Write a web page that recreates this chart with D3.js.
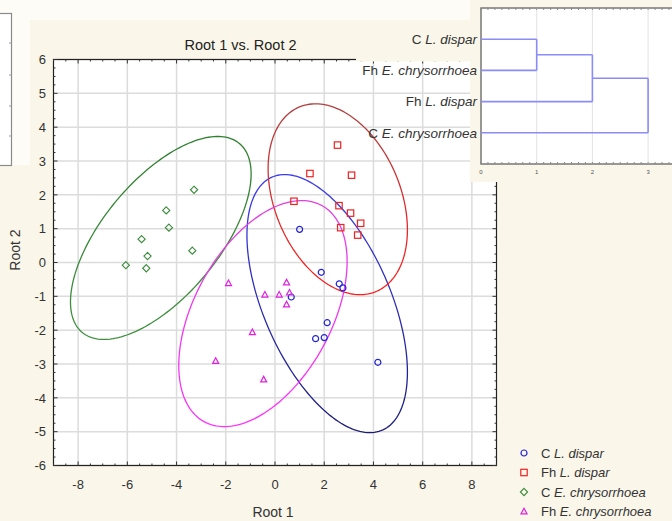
<!DOCTYPE html>
<html><head><meta charset="utf-8">
<script src="https://cdn.jsdelivr.net/npm/d3@7"></script>
<style>
body{margin:0;background:#fdfcf6;}
svg{display:block;font-family:"Liberation Sans",Arial,sans-serif;}
</style>
</head><body><svg id="c" width="672" height="521"></svg>
<script>
// ---------- data ----------
const groupPrefix  = ["C", "Fh", "C", "Fh"];
const groupSpecies = ["L. dispar", "L. dispar", "E. chrysorrhoea", "E. chrysorrhoea"];
const groupColors  = ["#2424d0", "#ee2222", "#3b8b3b", "#e020e0"];
const groupShapes  = ["circle", "square", "diamond", "triangle"];

const cLdisparRoot1 = [1.00, 1.88, 2.61, 2.76, 0.66, 2.12, 1.65, 2.00, 4.18];
const cLdisparRoot2 = [0.98, -0.29, -0.63, -0.75, -1.02, -1.78, -2.25, -2.22, -2.95];
const fhLdisparRoot1 = [2.54, 1.42, 3.11, 0.77, 2.60, 3.07, 3.48, 2.67, 3.36];
const fhLdisparRoot2 = [3.47, 2.63, 2.58, 1.81, 1.68, 1.46, 1.16, 1.03, 0.81];
const cEchrysRoot1 = [-3.29, -4.42, -4.31, -5.42, -3.36, -5.18, -6.06, -5.23];
const cEchrysRoot2 = [2.15, 1.54, 1.03, 0.69, 0.35, 0.19, -0.08, -0.17];
const fhEchrysRoot1 = [-1.89, 0.47, -0.41, 0.17, 0.59, 0.47, -0.92, -2.41, -0.46];
const fhEchrysRoot2 = [-0.61, -0.59, -0.95, -0.95, -0.89, -1.24, -2.06, -2.91, -3.46];

// ellipses (data units): centre, half extent in x and y, correlation
const ellipseCenterX = [2.12, 2.55, -4.64, -0.49];
const ellipseCenterY = [-1.215, 1.87, 0.725, -1.51];
const ellipseHalfX   = [3.26, 2.83, 3.67, 3.42];
const ellipseHalfY   = [3.815, 2.82, 3.00, 3.34];
const ellipseRho     = [-0.53, -0.32, 0.63, 0.46];

const xTicks = [-8, -6, -4, -2, 0, 2, 4, 6, 8];
const yTicks = [-6, -5, -4, -3, -2, -1, 0, 1, 2, 3, 4, 5, 6];

// dendrogram
const dendroLeaves = ["C L. dispar", "Fh E. chrysorrhoea", "Fh L. dispar", "C E. chrysorrhoea"];
const dendroLeafPrefix = ["C", "Fh", "Fh", "C"];
const dendroLeafSpecies = ["L. dispar", "E. chrysorrhoea", "L. dispar", "E. chrysorrhoea"];
const dendroMergeA = [0, 4, 5];      // node ids (leaves 0..3, merges 4..)
const dendroMergeB = [1, 2, 3];
const dendroMergeHeight = [1, 2, 3];
const dendroTicks = [0, 1, 2, 3];

// ---------- drawing ----------
const svg = d3.select("#c");
const cream = "#faf7ea";

svg.append("rect").attr("x", 0).attr("y", 0).attr("width", 672).attr("height", 521).attr("fill", "#fdfcf6");
svg.append("rect").attr("x", 30).attr("y", 20).attr("width", 642).attr("height", 501).attr("fill", cream);
svg.append("rect").attr("x", 0).attr("y", 165).attr("width", 30).attr("height", 356).attr("fill", cream);

// left fragment box
svg.append("rect").attr("x", -5).attr("y", 13.5).attr("width", 16.5).attr("height", 152)
  .attr("fill", "#ffffff").attr("stroke", "#8a8a8a").attr("stroke-width", 1.2);
[43, 75, 106, 136].forEach(v => svg.append("line").attr("x1", 9).attr("x2", 11.5).attr("y1", v).attr("y2", v).attr("stroke", "#999"));

const L = 53.5, R = 496.5, T = 59.5, B = 465.5;
const x = d3.scaleLinear().domain([-9, 9]).range([L, R]);
const y = d3.scaleLinear().domain([-6, 6]).range([B, T]);

svg.append("rect").attr("x", L).attr("y", T).attr("width", R - L).attr("height", B - T).attr("fill", "#fff");

// grid
const g = svg.append("g");
g.selectAll(".gx").data(xTicks).join("line")
  .attr("x1", d => x(d)).attr("x2", d => x(d)).attr("y1", T).attr("y2", B)
  .attr("stroke", "#dcdcdc").attr("stroke-width", 1.5);
g.selectAll(".gy").data(yTicks).join("line")
  .attr("y1", d => y(d)).attr("y2", d => y(d)).attr("x1", L).attr("x2", R)
  .attr("stroke", "#dcdcdc").attr("stroke-width", 1.5);

// ellipses
const defs = svg.append("defs");
const grads = [["#3c3cf0", "#1c1c78"], ["#b04040", "#ff1c1c"], ["#2f7f2f", "#3f913f"], ["#e040e0", "#ff30ff"]];
grads.forEach((c, i) => {
  const lg = defs.append("linearGradient").attr("id", "eg" + i).attr("x1", 0).attr("y1", 0).attr("x2", 0).attr("y2", 1);
  lg.append("stop").attr("offset", "0%").attr("stop-color", c[0]);
  lg.append("stop").attr("offset", "100%").attr("stop-color", c[1]);
});
const ts = d3.range(0, 360, 2).map(a => a * Math.PI / 180);
const line = d3.line().curve(d3.curveLinearClosed);
for (let i = 0; i < 4; i++) {
  const r = ellipseRho[i], s = Math.sqrt(1 - r * r);
  const pts = ts.map(t => [
    x(ellipseCenterX[i] + ellipseHalfX[i] * Math.cos(t)),
    y(ellipseCenterY[i] + ellipseHalfY[i] * (r * Math.cos(t) + s * Math.sin(t)))
  ]);
  svg.append("path").attr("d", line(pts)).attr("fill", "none")
    .attr("stroke", `url(#eg${i})`).attr("stroke-width", 1.3);
}

// points
const seriesX = [cLdisparRoot1, fhLdisparRoot1, cEchrysRoot1, fhEchrysRoot1];
const seriesY = [cLdisparRoot2, fhLdisparRoot2, cEchrysRoot2, fhEchrysRoot2];
function marker(sel, shape, color) {
  if (shape === "circle") sel.append("circle").attr("r", 3).attr("fill", "none").attr("stroke", color).attr("stroke-width", 1.2);
  else if (shape === "square") sel.append("rect").attr("x", -3.2).attr("y", -3.2).attr("width", 6.4).attr("height", 6.4).attr("fill", "none").attr("stroke", color).attr("stroke-width", 1.2);
  else if (shape === "diamond") sel.append("path").attr("d", "M0,-3.6L3.6,0L0,3.6L-3.6,0Z").attr("fill", "none").attr("stroke", color).attr("stroke-width", 1.1);
  else sel.append("path").attr("d", "M0,-3.2L3,2.4L-3,2.4Z").attr("fill", "none").attr("stroke", color).attr("stroke-width", 1.2);
}
for (let i = 0; i < 4; i++) {
  seriesX[i].forEach((v, j) => {
    const m = svg.append("g").attr("transform", `translate(${x(v)},${y(seriesY[i][j])})`);
    marker(m, groupShapes[i], groupColors[i]);
  });
}

// frame and ticks
svg.append("rect").attr("x", L).attr("y", T).attr("width", R - L).attr("height", B - T)
  .attr("fill", "none").attr("stroke", "#222").attr("stroke-width", 1.2);
const tk = svg.append("g").attr("stroke", "#333").attr("stroke-width", 1);
d3.range(-6, 6.001, 0.25).forEach(v => {
  const len = Math.abs(v - Math.round(v)) < 1e-6 ? 4 : 2;
  tk.append("line").attr("x1", L).attr("x2", L + len).attr("y1", y(v)).attr("y2", y(v));
  tk.append("line").attr("x1", R).attr("x2", R - len).attr("y1", y(v)).attr("y2", y(v));
});
d3.range(-9, 9.001, 0.5).forEach(v => {
  const len = Math.abs(v / 2 - Math.round(v / 2)) < 1e-6 ? 4 : 2;
  tk.append("line").attr("y1", B).attr("y2", B - len).attr("x1", x(v)).attr("x2", x(v));
  tk.append("line").attr("y1", T).attr("y2", T + len).attr("x1", x(v)).attr("x2", x(v));
});

// tick labels
svg.append("g").selectAll("text").data(yTicks).join("text")
  .attr("x", 46).attr("y", d => y(d)).attr("dy", "0.36em").attr("text-anchor", "end")
  .attr("font-size", 13).attr("fill", "#333").text(d => d);
svg.append("g").selectAll("text").data(xTicks).join("text")
  .attr("x", d => x(d)).attr("y", 484).attr("dy", "0.36em").attr("text-anchor", "middle")
  .attr("font-size", 13).attr("fill", "#333").text(d => d);

svg.append("text").attr("x", 273).attr("y", 517).attr("text-anchor", "middle").attr("font-size", 14).attr("fill", "#333").text("Root 1");
svg.append("text").attr("transform", "translate(20,250) rotate(-90)").attr("text-anchor", "middle").attr("font-size", 14).attr("fill", "#333").text("Root 2");
svg.append("text").attr("x", 240.5).attr("y", 50).attr("text-anchor", "middle").attr("font-size", 14.5).attr("fill", "#222").text("Root 1 vs. Root 2");

// legend
for (let i = 0; i < 4; i++) {
  const ly = 453 + i * 19.5;
  const m = svg.append("g").attr("transform", `translate(524,${ly})`);
  marker(m, groupShapes[i], groupColors[i]);
  const t = svg.append("text").attr("x", 541).attr("y", ly).attr("dy", "0.36em").attr("font-size", 13).attr("fill", "#333");
  t.append("tspan").text(groupPrefix[i] + " ");
  t.append("tspan").attr("font-style", "italic").text(groupSpecies[i]);
}

// ---------- dendrogram inset ----------
svg.append("rect").attr("x", 356).attr("y", 20).attr("width", 316).attr("height", 41.5).attr("fill", cream);
svg.append("rect").attr("x", 470).attr("y", 0).attr("width", 202).attr("height", 182).attr("fill", cream);
const dT = 8, dB = 164, dL = 481;
const dx = d3.scaleLinear().domain([0, 4]).range([dL, dL + 4 * 55.7]);
const dy = d3.scalePoint().domain(dendroLeaves).range([dT, dB]).padding(1);
svg.append("rect").attr("x", dL).attr("y", dT).attr("width", 260).attr("height", dB - dT)
  .attr("fill", "#fff").attr("stroke", "#777").attr("stroke-width", 1.5);
svg.append("g").selectAll("line").data(dendroTicks.slice(1)).join("line")
  .attr("x1", d => dx(d)).attr("x2", d => dx(d)).attr("y1", dT).attr("y2", dB)
  .attr("stroke", "#e2e2e2").attr("stroke-width", 1);
d3.range(0, 3.5, 0.125).forEach(v => {
  svg.append("line").attr("x1", dx(v)).attr("x2", dx(v)).attr("y1", dT).attr("y2", dT + 2).attr("stroke", "#888");
  svg.append("line").attr("x1", dx(v)).attr("x2", dx(v)).attr("y1", dB).attr("y2", dB - 2).attr("stroke", "#888");
});
svg.append("g").selectAll("text").data(dendroTicks).join("text")
  .attr("x", d => dx(d)).attr("y", 174).attr("text-anchor", "middle").attr("font-size", 6).attr("fill", "#555").text(d => d);

const nodeX = dendroLeaves.map(() => 0);
const nodeY = dendroLeaves.map(d => dy(d));
const dg = svg.append("g").attr("stroke", "#8c8cf8").attr("stroke-width", 1.6).attr("fill", "none");
dendroMergeHeight.forEach((h, k) => {
  const a = dendroMergeA[k], b = dendroMergeB[k];
  dg.append("line").attr("x1", dx(nodeX[a])).attr("x2", dx(h)).attr("y1", nodeY[a]).attr("y2", nodeY[a]);
  dg.append("line").attr("x1", dx(nodeX[b])).attr("x2", dx(h)).attr("y1", nodeY[b]).attr("y2", nodeY[b]);
  dg.append("line").attr("x1", dx(h)).attr("x2", dx(h)).attr("y1", nodeY[a]).attr("y2", nodeY[b]);
  nodeX.push(h);
  nodeY.push((nodeY[a] + nodeY[b]) / 2);
});
dendroLeaves.forEach((d, i) => {
  const t = svg.append("text").attr("x", 477).attr("y", dy(d)).attr("dy", "0.36em").attr("text-anchor", "end")
    .attr("font-size", 13.5).attr("fill", "#333");
  t.append("tspan").text(dendroLeafPrefix[i] + " ");
  t.append("tspan").attr("font-style", "italic").text(dendroLeafSpecies[i]);
});
</script>
</body></html>
